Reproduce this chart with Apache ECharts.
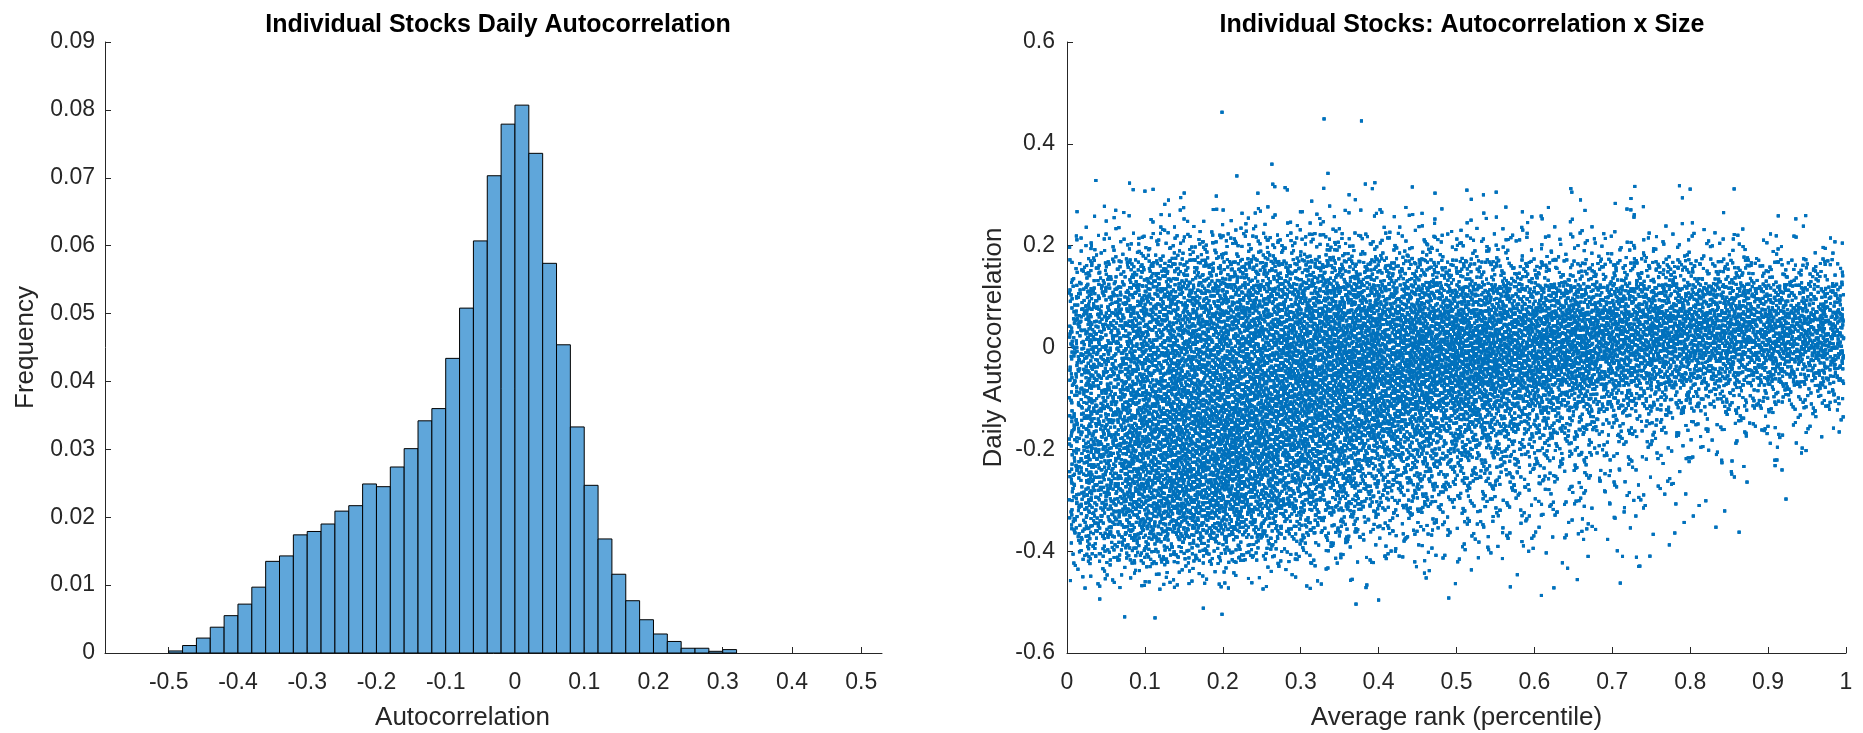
<!DOCTYPE html>
<html>
<head>
<meta charset="utf-8">
<script src="https://cdn.jsdelivr.net/npm/echarts@6/dist/echarts.min.js"></script>
<style>
  html, body { margin: 0; padding: 0; background: #fff; }
  #chart { width: 1863px; height: 733px; }
</style>
</head>
<body>
<div id="chart"></div>
<script>
// ---- left: histogram of daily autocorrelation (bins of 0.02 starting at -0.5)
const binStart = -0.5
const binWidth = 0.02
const frequency = [
  0.0003, 0.0011, 0.0022, 0.0038, 0.0055, 0.0072, 0.0097, 0.0135, 0.0143, 0.0174,
  0.0179, 0.0190, 0.0209, 0.0217, 0.0249, 0.0245, 0.0274, 0.0301, 0.0342, 0.0360,
  0.0434, 0.0508, 0.0607, 0.0703, 0.0779, 0.0807, 0.0736, 0.0574, 0.0454, 0.0333,
  0.0247, 0.0168, 0.0116, 0.0077, 0.0049, 0.0028, 0.0017, 0.0007, 0.0007, 0.00025,
  0.0005
]
const histTicks = [-0.5, -0.4, -0.3, -0.2, -0.1, 0, 0.1, 0.2, 0.3, 0.4, 0.5]

// ---- right: autocorrelation vs size rank
// isolated points read one by one
const outliers = [
  [0.199, 0.462], [0.330, 0.449], [0.378, 0.445], [0.263, 0.360], [0.037, 0.328],
  [0.218, 0.337], [0.335, 0.342], [0.383, 0.321], [0.392, 0.312], [0.100, 0.307],
  [0.085, 0.310], [0.551, 0.305], [0.648, 0.305], [0.800, 0.311], [0.790, 0.294],
  [0.519, 0.291], [0.280, 0.314], [0.245, 0.303], [0.618, 0.275], [0.435, 0.275],
  [0.074, -0.529], [0.113, -0.531], [0.199, -0.524], [0.042, -0.494], [0.371, -0.504],
  [0.400, -0.496], [0.490, -0.492], [0.175, -0.512], [0.609, -0.487], [0.625, -0.472],
  [0.734, -0.430], [0.731, -0.412], [0.833, -0.353], [0.909, -0.232], [0.912, -0.196],
  [0.820, -0.301], [0.804, -0.331], [0.870, -0.166], [0.892, -0.162]
]
// dense cloud: number of points per cell
// columns: rank 0-0.05, 0.05-0.10, ... 0.95-1.00
// rows: autocorrelation band with the given top edge, band height 0.05
const rankBinWidth = 0.05
const bandHeight = 0.05
const bandTops = [0.30, 0.25, 0.20, 0.15, 0.10, 0.05, 0, -0.05, -0.10, -0.15, -0.20, -0.25, -0.30, -0.35, -0.40]
const pointCounts = [
  [  2,   3,   5,   5,   5,   5,   5,   5,   3,   3,   3,   3,   3,   2,   2,   2,   2,   1,   1,   0],
  [  6,  10,  13,  13,  16,  16,  13,  13,  13,  10,   8,   8,   7,   7,   7,   5,   5,   3,   3,   2],
  [ 20,  34,  42,  42,  48,  48,  42,  42,  38,  34,  27,  24,  20,  20,  24,  24,  20,  17,  14,  10],
  [ 45,  76,  85,  85,  94,  94,  94,  94,  85,  82,  71,  65,  60,  60,  65,  68,  65,  60,  51,  42],
  [ 65,  94, 102, 102, 110, 110, 116, 119, 119, 119, 119, 116, 116, 119, 120, 118, 118, 112, 105,  90],
  [ 70, 102, 105, 110, 119, 122, 133, 136, 139, 145, 150, 150, 153, 150, 145, 140, 140, 138, 135, 120],
  [ 65, 102, 105, 116, 122, 128, 139, 145, 150, 153, 153, 153, 145, 135, 122, 112, 108, 108, 105,  90],
  [ 60, 102, 110, 119, 128, 133, 139, 139, 139, 139, 133, 122, 110,  94,  76,  65,  60,  54,  51,  42],
  [ 58, 102, 119, 128, 133, 133, 133, 128, 119, 110,  94,  82,  68,  51,  37,  31,  24,  20,  17,  14],
  [ 60, 110, 128, 136, 136, 128, 119, 105,  94,  82,  68,  54,  42,  31,  20,  15,  12,   8,   5,   3],
  [ 60, 110, 128, 136, 133, 119, 102,  85,  71,  60,  48,  37,  31,  20,  12,   8,   7,   3,   2,   0],
  [ 58, 110, 122, 133, 122, 105,  82,  65,  51,  42,  34,  25,  20,  14,   8,   5,   3,   2,   0,   0],
  [ 55, 102, 110, 116, 102,  82,  60,  42,  34,  27,  20,  17,  14,   8,   5,   3,   2,   0,   0,   0],
  [ 40,  76,  76,  76,  60,  42,  31,  20,  17,  14,  10,   8,   8,   5,   3,   2,   0,   0,   0,   0],
  [ 18,  34,  30,  30,  20,  14,  12,   8,   7,   5,   3,   3,   3,   2,   2,   0,   0,   0,   0,   0]
]

// spread each cell's points evenly (low-discrepancy, no randomness) over a box
// twice the cell size, so neighbouring cells blend instead of showing edges
function halton(i, b) {
  let f = 1, r = 0
  while (i > 0) { f /= b; r += f * (i % b); i = Math.floor(i / b) }
  return r
}
const spread = 2
const scatterData = outliers.slice()
pointCounts.forEach((row, r) => {
  row.forEach((n, c) => {
    const offset = (r * 20 + c) * 211 + 7
    for (let k = 0; k < n; k++) {
      const u = (halton(offset + k, 2) - 0.5) * spread + 0.5
      const v = (halton(offset + k, 3) - 0.5) * spread + 0.5
      let x = (c + u) * rankBinWidth
      if (x < 0.003) x = 0.006 - x
      if (x > 0.997) x = 1.994 - x
      scatterData.push([x, bandTops[r] - v * bandHeight])
    }
  })
})

const histData = frequency.map((f, i) => [binStart + i * binWidth, binStart + (i + 1) * binWidth, f])

const ink = '#262626'
const font = 'Liberation Sans, Arial, Helvetica, sans-serif'
const axisCommon = {
  axisLine: { show: true, onZero: false, lineStyle: { color: ink, width: 1 } },
  axisTick: { show: true, inside: true, length: 6, lineStyle: { color: ink } },
  axisLabel: { color: ink, fontSize: 23, fontFamily: font },
  splitLine: { show: false },
  nameTextStyle: { color: ink, fontSize: 26, fontFamily: font },
  nameLocation: 'middle'
}

const option = {
  animation: false,
  backgroundColor: '#fff',
  title: [
    {
      text: 'Individual Stocks Daily Autocorrelation',
      left: 493, top: 8, textAlign: 'center',
      textStyle: { color: '#000', fontSize: 25, fontWeight: 'bold', fontFamily: font }
    },
    {
      text: 'Individual Stocks: Autocorrelation x Size',
      left: 1457, top: 8, textAlign: 'center',
      textStyle: { color: '#000', fontSize: 25, fontWeight: 'bold', fontFamily: font }
    }
  ],
  grid: [
    { left: 105, right: 981, top: 42, bottom: 80, outerBoundsMode: 'none' },
    { left: 1067, right: 17, top: 42, bottom: 80, outerBoundsMode: 'none' }
  ],
  xAxis: [
    Object.assign({}, axisCommon, {
      gridIndex: 0, type: 'value', min: -0.592, max: 0.53,
      name: 'Autocorrelation', nameGap: 52,
      // the label sits a little left of the axis centre in the original
      nameTextStyle: Object.assign({}, axisCommon.nameTextStyle, { padding: [0, 62, 0, 0] }),
      axisTick: Object.assign({}, axisCommon.axisTick, { customValues: histTicks }),
      axisLabel: Object.assign({}, axisCommon.axisLabel, { customValues: histTicks, margin: 18 })
    }),
    Object.assign({}, axisCommon, {
      gridIndex: 1, type: 'value', min: 0, max: 1, interval: 0.1,
      name: 'Average rank (percentile)', nameGap: 52,
      axisLabel: Object.assign({}, axisCommon.axisLabel, { margin: 18 })
    })
  ],
  yAxis: [
    Object.assign({}, axisCommon, {
      gridIndex: 0, type: 'value', min: 0, max: 0.09, interval: 0.01,
      name: 'Frequency', nameGap: 66,
      axisLabel: Object.assign({}, axisCommon.axisLabel, { margin: 10 })
    }),
    Object.assign({}, axisCommon, {
      gridIndex: 1, type: 'value', min: -0.6, max: 0.6, interval: 0.2,
      name: 'Daily Autocorrelation', nameGap: 60,
      axisLabel: Object.assign({}, axisCommon.axisLabel, { margin: 12 })
    })
  ],
  series: [
    {
      type: 'custom',
      xAxisIndex: 0, yAxisIndex: 0,
      data: histData,
      encode: { x: [0, 1], y: 2 },
      renderItem: function (params, api) {
        const p0 = api.coord([api.value(0), 0])
        const p1 = api.coord([api.value(1), api.value(2)])
        return {
          type: 'rect',
          shape: { x: p0[0], y: p1[1], width: p1[0] - p0[0], height: p0[1] - p1[1] },
          style: { fill: '#5FA6DA', stroke: '#000', lineWidth: 1 }
        }
      }
    },
    {
      type: 'scatter',
      xAxisIndex: 1, yAxisIndex: 1,
      data: scatterData,
      symbol: 'circle',
      symbolSize: 3,
      itemStyle: { color: '#0072BD' },
      large: true,
      largeThreshold: 2000
    }
  ]
}

const chart = echarts.init(document.getElementById('chart'))
chart.setOption(option)
window.addEventListener('resize', function () {
  chart.resize()
})
</script>
</body>
</html>
